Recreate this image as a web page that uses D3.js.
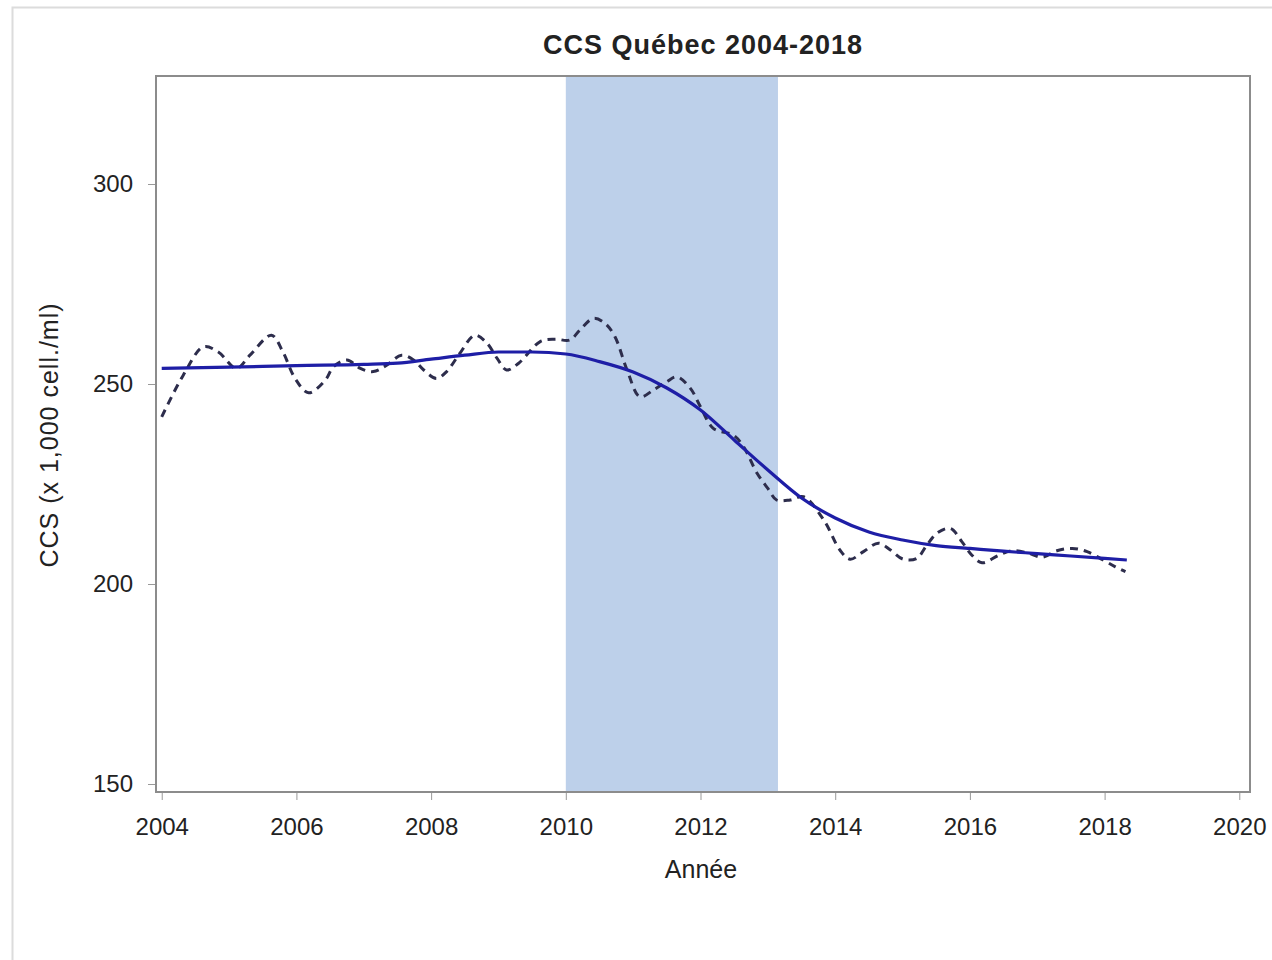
<!DOCTYPE html>
<meta charset="utf-8">
<style>
  body { margin: 0; background: #fff; }
  svg text { font-family: "Liberation Sans", Arial, sans-serif; fill: #222; }
</style>
<script src="https://d3js.org/d3.v7.min.js"></script>
<div id="my_dataviz"></div>
<script>

// data
var title = "CCS Québec 2004-2018";
var xLabel = "Année";
var yLabel = "CCS (x 1,000 cell./ml)";
var xTicks = [2004, 2006, 2008, 2010, 2012, 2014, 2016, 2018, 2020];
var yTicks = [150, 200, 250, 300];
var shadeYears = [2010, 2013.15];

// smoothed trend (solid)
var trendYears  = [2004, 2005, 2006, 2007, 2007.5, 2008, 2008.5, 2009, 2009.5, 2010, 2010.5, 2011, 2011.5, 2012, 2012.5, 2013, 2013.5, 2014, 2014.5, 2015, 2015.5, 2016, 2016.5, 2017, 2017.5, 2018, 2018.33];
var trendValues = [253.9, 254.2, 254.6, 254.9, 255.2, 256.2, 257.2, 258.0, 258.0, 257.5, 255.6, 253.0, 249.0, 243.5, 236.0, 228.5, 221.5, 216.5, 213.0, 211.0, 209.6, 208.9, 208.2, 207.6, 207.0, 206.4, 206.0];

// monthly values (dashed)
var ccsYears  = [2004.0, 2004.32, 2004.62, 2004.84, 2005.11, 2005.31, 2005.63, 2005.8, 2005.98, 2006.18, 2006.43, 2006.55, 2006.75, 2006.95, 2007.14, 2007.34, 2007.56, 2007.74, 2007.89, 2008.08, 2008.23, 2008.42, 2008.65, 2008.83, 2008.98, 2009.12, 2009.3, 2009.62, 2009.84, 2010.06, 2010.21, 2010.41, 2010.58, 2010.73, 2010.91, 2011.1, 2011.3, 2011.5, 2011.65, 2011.85, 2012.0, 2012.19, 2012.49, 2012.64, 2012.84, 2013.0, 2013.13, 2013.33, 2013.53, 2013.83, 2014.07, 2014.22, 2014.42, 2014.64, 2014.82, 2015.01, 2015.21, 2015.36, 2015.51, 2015.71, 2015.88, 2016.03, 2016.18, 2016.43, 2016.62, 2016.85, 2017.07, 2017.29, 2017.52, 2017.74, 2017.98, 2018.16, 2018.31];
var ccsValues = [241.8, 252.2, 259.3, 258.0, 253.9, 257.2, 262.2, 258.0, 251.4, 247.8, 251.0, 254.3, 256.0, 253.9, 253.1, 254.7, 257.2, 256.0, 253.5, 251.4, 253.1, 257.5, 262.2, 260.2, 256.4, 253.5, 255.2, 260.6, 261.2, 261.0, 263.5, 266.4, 265.2, 261.8, 253.5, 246.8, 248.5, 250.6, 251.8, 248.9, 244.3, 238.9, 237.2, 234.3, 227.7, 223.9, 221.0, 221.0, 221.8, 216.0, 208.5, 206.2, 208.1, 210.2, 208.5, 206.2, 206.4, 209.7, 212.7, 213.9, 210.6, 207.2, 205.3, 207.2, 208.3, 207.8, 206.7, 208.3, 208.9, 208.1, 206.0, 204.3, 203.1];

var W = 1272, H = 960;
var margin = {top: 76, right: 22, bottom: 168, left: 156},
    width = W - margin.left - margin.right,
    height = H - margin.top - margin.bottom;

var svg = d3.select("#my_dataviz")
  .append("svg")
    .attr("width", W)
    .attr("height", H);

// light outer frame
svg.append("path")
  .attr("d", "M12.5," + H + " L12.5,7.5 L" + W + ",7.5")
  .attr("fill", "none")
  .attr("stroke", "#dcdcdc")
  .attr("stroke-width", 2);

var g = svg.append("g")
  .attr("transform", "translate(" + margin.left + "," + margin.top + ")");

var x = d3.scaleLinear()
  .domain([2003.915, 2020.159])
  .range([0, width]);

var y = d3.scaleLinear()
  .domain([148, 327])
  .range([height, 0]);

// shaded period
g.append("rect")
  .attr("x", x(shadeYears[0]))
  .attr("y", 0)
  .attr("width", x(shadeYears[1]) - x(shadeYears[0]))
  .attr("height", height)
  .attr("fill", "#bdd0ea");

// axes
var xAxis = g.append("g")
  .attr("transform", "translate(0," + height + ")")
  .call(d3.axisBottom(x).tickValues(xTicks).tickFormat(d3.format("d")).tickSizeOuter(0).tickSize(8).tickPadding(18));

var yAxis = g.append("g")
  .call(d3.axisLeft(y).tickValues(yTicks).tickSizeOuter(0).tickSize(8).tickPadding(15));

[xAxis, yAxis].forEach(function(a) {
  a.select(".domain").remove();
  a.selectAll(".tick line").attr("stroke", "#999");
  a.selectAll(".tick text")
    .attr("font-size", 24)
    .attr("fill", "#222");
});

// frame
g.append("rect")
  .attr("x", 0).attr("y", 0)
  .attr("width", width).attr("height", height)
  .attr("fill", "none")
  .attr("stroke", "#8c8c8c")
  .attr("stroke-width", 2);

var line = d3.line()
  .x(function(d) { return x(d[0]); })
  .y(function(d) { return y(d[1]); });

// dashed monthly line
g.append("path")
  .datum(ccsYears.map(function(v, i) { return [v, ccsValues[i]]; }))
  .attr("fill", "none")
  .attr("stroke", "#2d2d4c")
  .attr("stroke-width", 3)
  .attr("stroke-dasharray", "8,6")
  .attr("d", line.curve(d3.curveCatmullRom.alpha(0.5)));

// trend line
g.append("path")
  .datum(trendYears.map(function(v, i) { return [v, trendValues[i]]; }))
  .attr("fill", "none")
  .attr("stroke", "#1e1ea6")
  .attr("stroke-width", 3.2)
  .attr("d", line.curve(d3.curveMonotoneX));

// labels
svg.append("text")
  .attr("x", 703).attr("y", 54)
  .attr("text-anchor", "middle")
  .attr("font-size", 27)
  .attr("font-weight", "bold")
  .style("letter-spacing", "1px")
  .text(title);

svg.append("text")
  .attr("x", 701).attr("y", 878)
  .attr("text-anchor", "middle")
  .attr("font-size", 25)
  .text(xLabel);

svg.append("text")
  .attr("transform", "translate(58,435) rotate(-90)")
  .attr("text-anchor", "middle")
  .attr("font-size", 25)
  .style("letter-spacing", "1px")
  .text(yLabel);

</script>
